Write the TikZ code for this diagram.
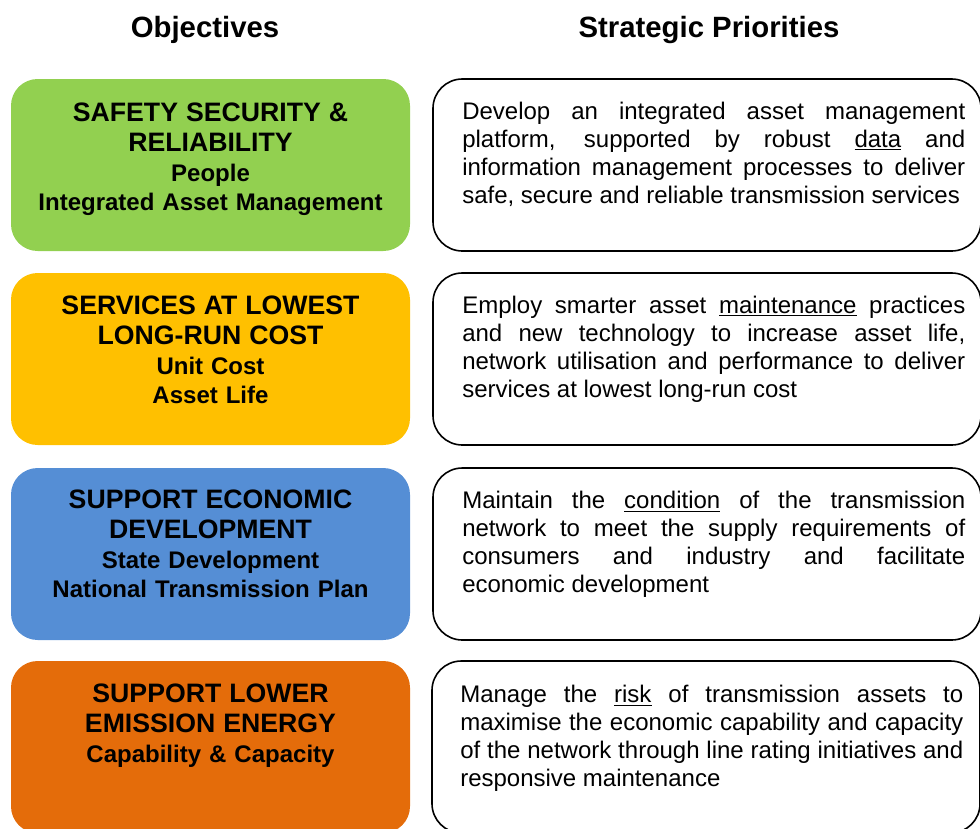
\documentclass[tikz,border=0pt]{standalone}
\usepackage{fontspec}
\setmainfont{Liberation Sans}

\definecolor{safetygreen}{HTML}{92D050}
\definecolor{costgold}{HTML}{FFC000}
\definecolor{growthblue}{HTML}{558ED5}
\definecolor{emissionorange}{HTML}{E46C0A}

% no hyphens, forced breaks may stretch as far as they need
\tolerance=10000
\hyphenpenalty=10000
\exhyphenpenalty=10000

\tikzset{
	heading/.style={inner sep=0pt, anchor=base, font=\bfseries\fontsize{22}{26}\selectfont},
	objbox/.style={minimum width=299.25pt, minimum height=129pt, inner sep=0pt, rounded corners=20pt},
	objtext/.style={anchor=north, inner sep=0pt, text width=292pt, align=center, font=\bfseries\fontsize{18}{22.25}\selectfont},
	priobox/.style={draw, line width=1.2pt, minimum width=411pt, minimum height=129pt, inner sep=0pt, rounded corners=22pt},
	priotext/.style={anchor=north west, inner sep=0pt, text width=377.25pt, align=justify, font=\fontsize{18}{21}\selectfont}
}
\newcommand{\objtitle}[1]{{\fontsize{20}{22.25}\selectfont #1}}

\begin{document}
\begin{tikzpicture}[x=0.75pt, y=-0.75pt]
			%%%%% START %%%%%
			
			\useasboundingbox (0, 0) rectangle (980, 828);
			\clip (0, 0) rectangle (980, 828);
			
			\node[heading] (objhead) at (205, 37) {Objectives};
			\node[heading] (priohead) at (709, 37) {Strategic Priorities};
			
			% row 1
			\node[objbox, fill=safetygreen] (obj1) at (210.5, 165) {};
			\node[objtext] (obj1t) at (210.5, 103) {\objtitle{SAFETY SECURITY \&}\\ \objtitle{RELIABILITY}\\ People\\ Integrated Asset Management};
			\node[priobox] (prio1) at (707, 165) {};
			\node[priotext] (prio1t) at (462, 102) {Develop an integrated asset management\linebreak platform, supported by robust \underline{data} and\linebreak information management processes to deliver\linebreak safe, secure and reliable transmission services};
			
			% row 2
			\node[objbox, fill=costgold] (obj2) at (210.5, 359) {};
			\node[objtext] (obj2t) at (210.5, 296) {\objtitle{SERVICES AT LOWEST}\\ \objtitle{LONG-RUN COST}\\ Unit Cost\\ Asset Life};
			\node[priobox] (prio2) at (707, 359) {};
			\node[priotext] (prio2t) at (462, 296) {Employ smarter asset \underline{maintenance} practices\linebreak and new technology to increase asset life,\linebreak network utilisation and performance to deliver\linebreak services at lowest long-run cost};
			
			% row 3
			\node[objbox, fill=growthblue] (obj3) at (210.5, 554) {};
			\node[objtext] (obj3t) at (210.5, 490) {\objtitle{SUPPORT ECONOMIC}\\ \objtitle{DEVELOPMENT}\\ State Development\\ National Transmission Plan};
			\node[priobox] (prio3) at (707, 554) {};
			\node[priotext] (prio3t) at (462, 491) {Maintain the \underline{condition} of the transmission\linebreak network to meet the supply requirements of\linebreak consumers and industry and facilitate\linebreak economic development};
			
			% row 4, runs off the bottom
			\node[objbox, fill=emissionorange] (obj4) at (210.5, 747) {};
			\node[objtext] (obj4t) at (210.5, 684) {\objtitle{SUPPORT LOWER}\\ \objtitle{EMISSION ENERGY}\\ Capability \& Capacity};
			\node[priobox] (prio4) at (706, 747) {};
			\node[priotext] (prio4t) at (460, 685) {Manage the \underline{risk} of transmission assets to\linebreak maximise the economic capability and capacity\linebreak of the network through line rating initiatives and\linebreak responsive maintenance};
			
			%%%%% END %%%%%
\end{tikzpicture}
\end{document}
